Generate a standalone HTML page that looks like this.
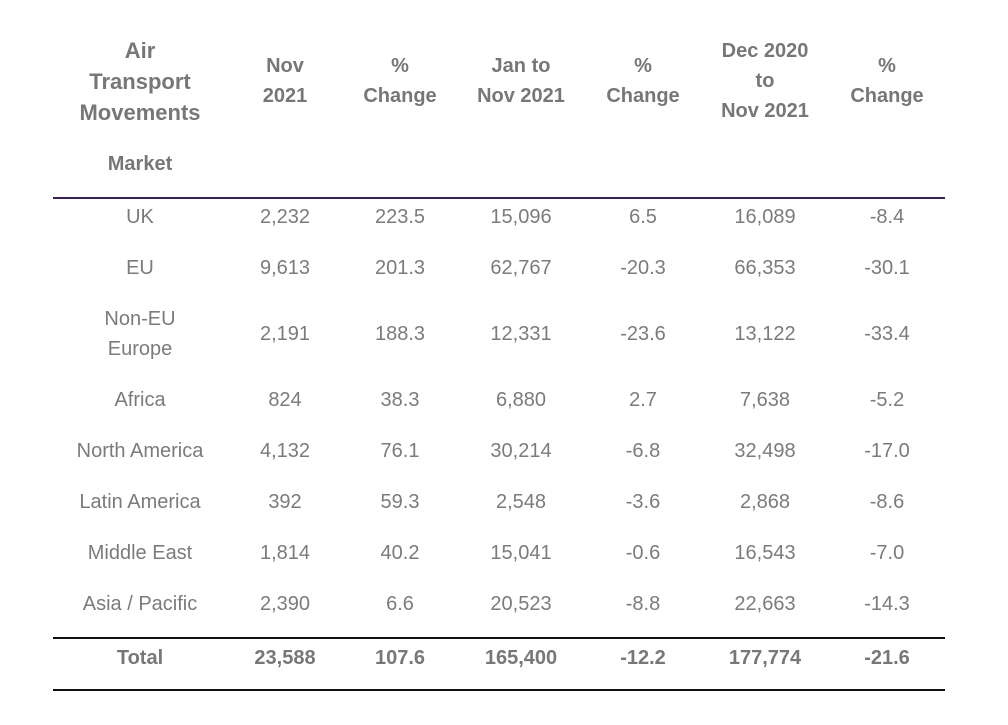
<!DOCTYPE html>
<html>
<head>
<meta charset="utf-8">
<style>
html,body{margin:0;padding:0;background:#fff;}
body{width:1008px;height:725px;position:relative;overflow:hidden;font-family:"Liberation Sans",Arial,sans-serif;color:#7b7b7b;}
.t{position:absolute;width:160px;text-align:center;font-size:20px;line-height:30px;white-space:nowrap;}
.b{font-weight:bold;color:#777;}
.ti{font-size:22px;line-height:31px;}
.ln{position:absolute;left:53px;width:892px;height:2px;}
</style>
</head>
<body>
<!-- header -->
<div class="t b ti" style="left:60px;top:35px;">Air<br>Transport<br>Movements</div>
<div class="t b" style="left:60px;top:149px;">Market</div>
<div class="t b" style="left:205px;top:51px;">Nov<br>2021</div>
<div class="t b" style="left:320px;top:51px;">%<br>Change</div>
<div class="t b" style="left:441px;top:51px;">Jan to<br>Nov 2021</div>
<div class="t b" style="left:563px;top:51px;">%<br>Change</div>
<div class="t b" style="left:685px;top:36px;">Dec 2020<br>to<br>Nov 2021</div>
<div class="t b" style="left:807px;top:51px;">%<br>Change</div>

<div class="ln" style="top:197px;background:#3b1f4d;"></div>

<!-- UK -->
<div class="t" style="left:60px;top:202px;">UK</div>
<div class="t" style="left:205px;top:202px;">2,232</div>
<div class="t" style="left:320px;top:202px;">223.5</div>
<div class="t" style="left:441px;top:202px;">15,096</div>
<div class="t" style="left:563px;top:202px;">6.5</div>
<div class="t" style="left:685px;top:202px;">16,089</div>
<div class="t" style="left:807px;top:202px;">-8.4</div>

<!-- EU -->
<div class="t" style="left:60px;top:253px;">EU</div>
<div class="t" style="left:205px;top:253px;">9,613</div>
<div class="t" style="left:320px;top:253px;">201.3</div>
<div class="t" style="left:441px;top:253px;">62,767</div>
<div class="t" style="left:563px;top:253px;">-20.3</div>
<div class="t" style="left:685px;top:253px;">66,353</div>
<div class="t" style="left:807px;top:253px;">-30.1</div>

<!-- Non-EU Europe -->
<div class="t" style="left:60px;top:304px;">Non-EU<br>Europe</div>
<div class="t" style="left:205px;top:319px;">2,191</div>
<div class="t" style="left:320px;top:319px;">188.3</div>
<div class="t" style="left:441px;top:319px;">12,331</div>
<div class="t" style="left:563px;top:319px;">-23.6</div>
<div class="t" style="left:685px;top:319px;">13,122</div>
<div class="t" style="left:807px;top:319px;">-33.4</div>

<!-- Africa -->
<div class="t" style="left:60px;top:385px;">Africa</div>
<div class="t" style="left:205px;top:385px;">824</div>
<div class="t" style="left:320px;top:385px;">38.3</div>
<div class="t" style="left:441px;top:385px;">6,880</div>
<div class="t" style="left:563px;top:385px;">2.7</div>
<div class="t" style="left:685px;top:385px;">7,638</div>
<div class="t" style="left:807px;top:385px;">-5.2</div>

<!-- North America -->
<div class="t" style="left:60px;top:436px;">North America</div>
<div class="t" style="left:205px;top:436px;">4,132</div>
<div class="t" style="left:320px;top:436px;">76.1</div>
<div class="t" style="left:441px;top:436px;">30,214</div>
<div class="t" style="left:563px;top:436px;">-6.8</div>
<div class="t" style="left:685px;top:436px;">32,498</div>
<div class="t" style="left:807px;top:436px;">-17.0</div>

<!-- Latin America -->
<div class="t" style="left:60px;top:487px;">Latin America</div>
<div class="t" style="left:205px;top:487px;">392</div>
<div class="t" style="left:320px;top:487px;">59.3</div>
<div class="t" style="left:441px;top:487px;">2,548</div>
<div class="t" style="left:563px;top:487px;">-3.6</div>
<div class="t" style="left:685px;top:487px;">2,868</div>
<div class="t" style="left:807px;top:487px;">-8.6</div>

<!-- Middle East -->
<div class="t" style="left:60px;top:538px;">Middle East</div>
<div class="t" style="left:205px;top:538px;">1,814</div>
<div class="t" style="left:320px;top:538px;">40.2</div>
<div class="t" style="left:441px;top:538px;">15,041</div>
<div class="t" style="left:563px;top:538px;">-0.6</div>
<div class="t" style="left:685px;top:538px;">16,543</div>
<div class="t" style="left:807px;top:538px;">-7.0</div>

<!-- Asia / Pacific -->
<div class="t" style="left:60px;top:589px;">Asia / Pacific</div>
<div class="t" style="left:205px;top:589px;">2,390</div>
<div class="t" style="left:320px;top:589px;">6.6</div>
<div class="t" style="left:441px;top:589px;">20,523</div>
<div class="t" style="left:563px;top:589px;">-8.8</div>
<div class="t" style="left:685px;top:589px;">22,663</div>
<div class="t" style="left:807px;top:589px;">-14.3</div>

<div class="ln" style="top:637px;background:#111;"></div>

<!-- Total -->
<div class="t b" style="left:60px;top:643px;">Total</div>
<div class="t b" style="left:205px;top:643px;">23,588</div>
<div class="t b" style="left:320px;top:643px;">107.6</div>
<div class="t b" style="left:441px;top:643px;">165,400</div>
<div class="t b" style="left:563px;top:643px;">-12.2</div>
<div class="t b" style="left:685px;top:643px;">177,774</div>
<div class="t b" style="left:807px;top:643px;">-21.6</div>

<div class="ln" style="top:689px;background:#111;"></div>
</body>
</html>
